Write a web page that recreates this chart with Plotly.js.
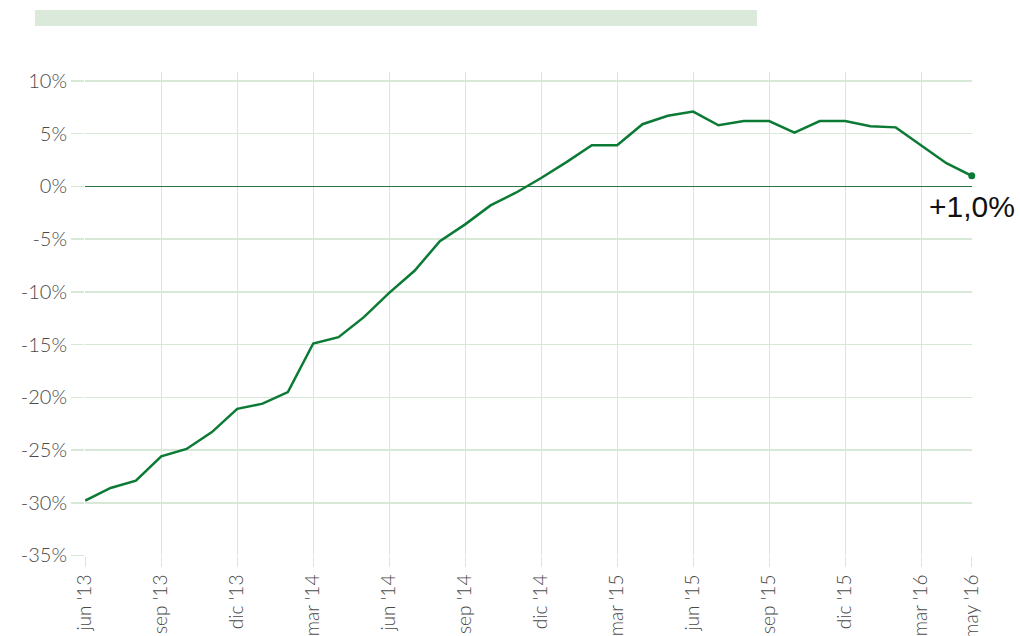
<!DOCTYPE html>
<html>
<head>
<meta charset="utf-8">
<script src="https://cdn.plot.ly/plotly-3.0.1.min.js"></script>
<style>html,body{margin:0;padding:0;background:#fff;}#chart{width:1020px;height:636px;}</style>
</head>
<body>
<div id="chart"></div>
<script>
const months = ["jun '13","jul '13","ago '13","sep '13","oct '13","nov '13","dic '13","ene '14","feb '14","mar '14","abr '14","may '14",
  "jun '14","jul '14","ago '14","sep '14","oct '14","nov '14","dic '14","ene '15","feb '15","mar '15","abr '15","may '15",
  "jun '15","jul '15","ago '15","sep '15","oct '15","nov '15","dic '15","ene '16","feb '16","mar '16","abr '16","may '16"];
const values = [-29.8,-28.6,-27.9,-25.6,-24.9,-23.3,-21.1,-20.6,-19.5,-14.9,-14.3,-12.4,
  -10.1,-8.0,-5.2,-3.6,-1.8,-0.6,0.8,2.3,3.9,3.9,5.9,6.7,
  7.1,5.8,6.2,6.2,5.1,6.2,6.2,5.7,5.6,3.9,2.2,1.0];
const xTickVals = ["jun '13","sep '13","dic '13","mar '14","jun '14","sep '14","dic '14","mar '15","jun '15","sep '15","dic '15","mar '16","may '16"];
const yTickVals = [-35,-30,-25,-20,-15,-10,-5,0,5,10];
const yTickText = ["-35%","-30%","-25%","-20%","-15%","-10%","-5%","0%","5%","10%"];
const lastLabel = "+1,0%";

const green = "#0b7a35";
const grid = "#d8e8d6";
const n = months.length;

const traces = [
  {x: months, y: values, type: "scatter", mode: "lines", cliponaxis: false,
   line: {color: green, width: 2.5}, hoverinfo: "skip"},
  {x: [months[n-1]], y: [values[n-1]], type: "scatter", mode: "markers", cliponaxis: false,
   marker: {color: green, size: 7}, hoverinfo: "skip"}
];

const layout = {
  width: 1020, height: 636,
  margin: {l: 85, r: 48, t: 72, b: 80},
  paper_bgcolor: "#fff", plot_bgcolor: "#fff",
  showlegend: false,
  xaxis: {
    type: "category", categoryorder: "array", categoryarray: months,
    range: [-0.01, n - 1 + 0.01],
    tickmode: "array", tickvals: xTickVals, ticktext: xTickVals,
    tickangle: -90, ticks: "outside", ticklen: 10, tickcolor: grid, tickwidth: 1,
    showgrid: true, gridcolor: grid, gridwidth: 1,
    showline: false, zeroline: false, automargin: false,
    tickfont: {family: "Lato, 'Open Sans', sans-serif", size: 19, color: "#4a4a4a", weight: 300}
  },
  yaxis: {
    range: [-35.05, 10.85],
    tickmode: "array", tickvals: yTickVals, ticktext: yTickText,
    ticks: "outside", ticklen: 13, tickcolor: grid, tickwidth: 1.5,
    showgrid: true, gridcolor: grid, gridwidth: 1.5,
    zeroline: true, zerolinecolor: "#2a7446", zerolinewidth: 1.2,
    showline: false, automargin: false,
    tickfont: {family: "Lato, 'Open Sans', sans-serif", size: 20, color: "#4a4a4a", weight: 300}
  },
  shapes: [{
    type: "rect", xref: "paper", yref: "paper",
    x0: (35 - 85) / 887, x1: (757 - 85) / 887,
    y0: (556 - 26) / 484, y1: (556 - 10) / 484,
    fillcolor: "#dbe9da", line: {width: 0}, layer: "above"
  }],
  annotations: [{
    x: months[n-1], y: values[n-1], xref: "x", yref: "y",
    text: lastLabel, showarrow: false, xanchor: "center", yanchor: "middle",
    yshift: -31,
    font: {family: "'Liberation Sans', Arial, sans-serif", size: 30, color: "#111"}
  }]
};

Plotly.newPlot("chart", traces, layout, {displayModeBar: false, staticPlot: true});
</script>
</body>
</html>
